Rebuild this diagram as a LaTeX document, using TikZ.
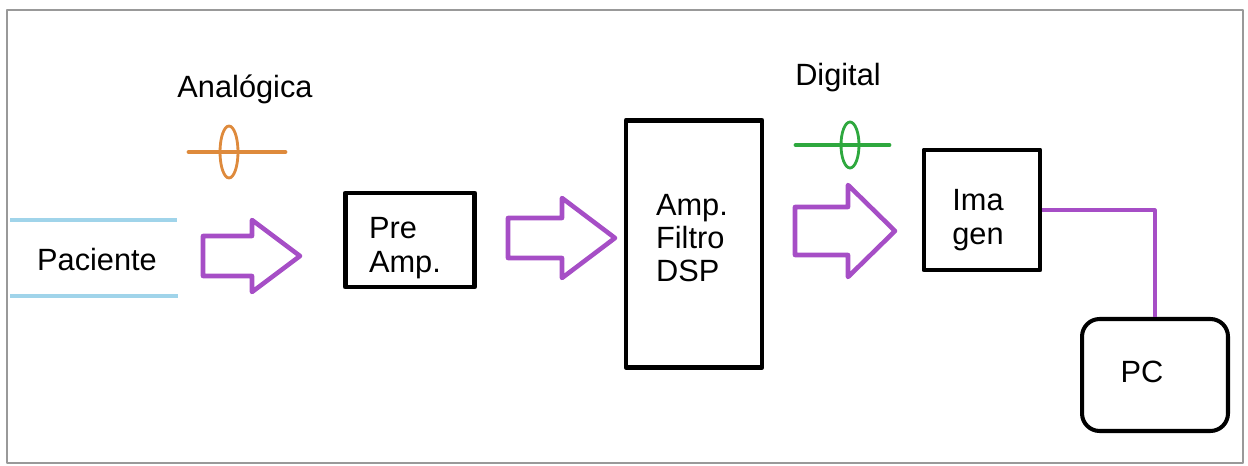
\documentclass[tikz,border=0pt]{standalone}
\usepackage{fontspec}
\setmainfont{Liberation Sans}
\usepackage{tikz}
\usetikzlibrary{calc}
\usepackage{xcolor}
\definecolor{flecha}{RGB}{166,78,198}
\definecolor{analog}{RGB}{222,138,60}
\definecolor{digit}{RGB}{46,168,62}
\definecolor{celeste}{RGB}{160,212,234}

\begin{document}
\begin{tikzpicture}[x=0.02cm, y=-0.02cm, line join=round,
  every node/.style={font=\fontsize{17.5}{19}\selectfont},
  bloque/.style={draw, line width=2.8pt, inner sep=0pt},
  rotulo/.style={align=left, inner sep=0pt}]
\useasboundingbox (0,0) rectangle (1248,466);
\draw[gray!80, line width=0.8pt] (7,10) rectangle (1243,463);
% paciente
\draw[celeste, line width=2.2pt] (10,220) -- (177,220);
\draw[celeste, line width=2.2pt] (10,296) -- (178,296);
\node (pac) at (97,260) {Paciente};
% bloques
\node[bloque, minimum width=2.58cm, minimum height=1.88cm] (pre) at (410,240) {};
\node[bloque, minimum width=2.72cm, minimum height=4.94cm] (dsp) at (694,244) {};
\node[bloque, minimum width=2.32cm, minimum height=2.40cm] (img) at (982,210) {};
\node[draw, line width=2.3pt, rounded corners=10pt, minimum width=2.92cm,
  minimum height=2.24cm] (pc) at (1155,375) {};
\node[rotulo] (pretxt) at ($(pre)+(-5,8)$) {Pre\\Amp.};
\node[rotulo] (dsptxt) at ($(dsp)+(-2,-6)$) {Amp.\\Filtro\\DSP};
\node[rotulo] (imgtxt) at ($(img)+(-4,10)$) {Ima\\gen};
\node (pctxt) at ($(pc)+(-13,-3)$) {PC};
% tipo de senal
\node (ana) at (245,89) {Analógica};
\node (dig) at (838,78) {Digital};
\draw[analog, line width=2.8pt, line cap=round] (189,152) -- (285,152);
\draw[analog, line width=1.6pt] (229,152) ellipse [x radius=9, y radius=26];
\draw[digit, line width=2.8pt, line cap=round] (796,145) -- (889,145);
\draw[digit, line width=1.6pt] (850,145) ellipse [x radius=9, y radius=23];
% flechas de bloque
\foreach \xa/\xb/\xt/\yc/\hs/\hh in {203/252/300/256/20/36,
    508/562/615/238/20/40, 795/848/895/231/24/46}
  {\draw[flecha, line width=2.6pt] (\xa,\yc-\hs) -- (\xb,\yc-\hs) -- (\xb,\yc-\hh)
     -- (\xt,\yc) -- (\xb,\yc+\hh) -- (\xb,\yc+\hs) -- (\xa,\yc+\hs) -- cycle;}
% imagen a PC
\draw[flecha, line width=1.8pt] (img.east) -| (pc.north);
\end{tikzpicture}
\end{document}
